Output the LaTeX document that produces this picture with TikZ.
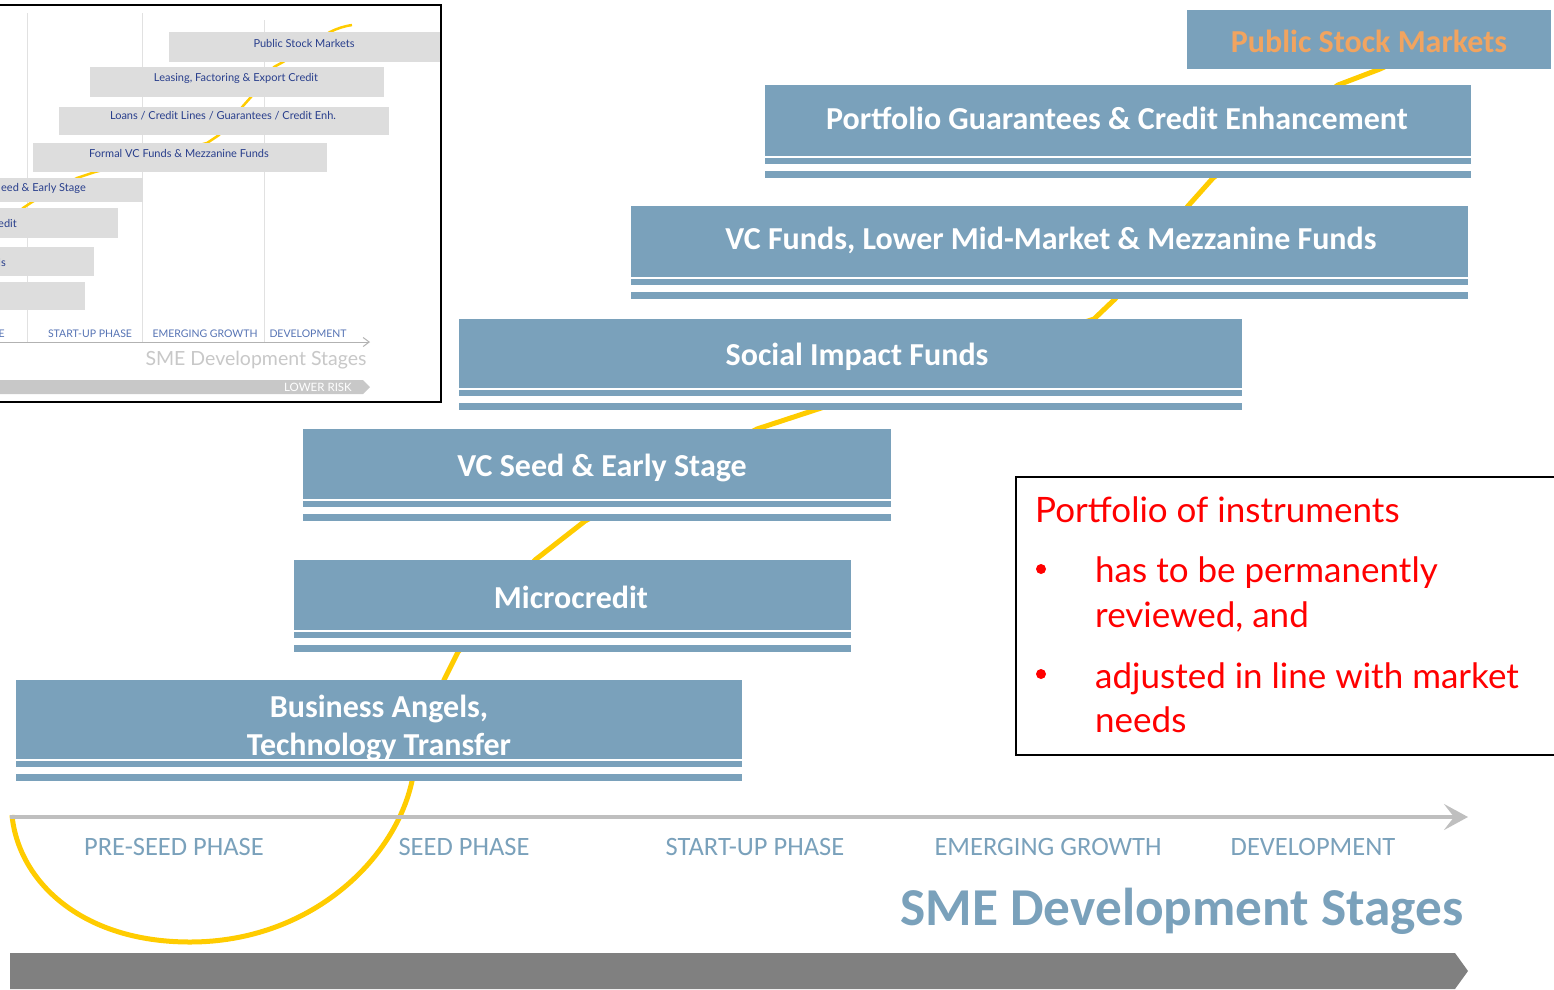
\documentclass[tikz,border=0pt]{standalone}
\usepackage{fontspec}
\setmainfont{Carlito}
\newfontfamily\geofont{Lato}
\usetikzlibrary{arrows.meta}
\definecolor{barblue}{RGB}{122,161,187}
\definecolor{curveyel}{RGB}{255,204,0}
\definecolor{axisgray}{RGB}{191,191,191}
\definecolor{darkbar}{RGB}{128,128,128}
\definecolor{pubtext}{RGB}{241,164,96}
\definecolor{insetgray}{RGB}{221,221,221}
\definecolor{insetblue}{RGB}{40,62,140}
\definecolor{insetaxis}{RGB}{85,115,180}
\definecolor{insetline}{RGB}{225,225,225}
\definecolor{insetlight}{RGB}{200,200,200}
\newcommand\barstripes[1]{%
  \fill[white] (#1.south west) rectangle ([yshift=-22pt]#1.south east);
  \fill[barblue] ([yshift=-2pt]#1.south west) rectangle ([yshift=-8pt]#1.south east);
  \fill[barblue] ([yshift=-15pt]#1.south west) rectangle ([yshift=-22pt]#1.south east);
}
\begin{document}
\begin{tikzpicture}[x=1pt,y=-1pt,
  stagebar/.style={fill=barblue, inner sep=0pt, anchor=north west},
  bartext/.style={text=white, inner sep=0pt, font=\bfseries\fontsize{32}{38}\selectfont, align=center},
  curve/.style={curveyel, line width=5pt, line join=round},
  phase/.style={text=barblue, font=\fontsize{26.5}{30}\selectfont, inner sep=0pt},
  redtext/.style={text=red, font=\geofont\fontsize{35}{40}\selectfont, anchor=base west, inner sep=0pt},
  redbullet/.style={circle, fill=red, minimum size=10pt, inner sep=0pt},
  insetbar/.style={fill=insetgray},
  insettext/.style={text=insetblue, font=\geofont\fontsize{11}{13}\selectfont, inner sep=0pt},
  insetphase/.style={text=insetaxis, font=\geofont\fontsize{10.5}{12}\selectfont, inner sep=0pt}]
\useasboundingbox (0,0) rectangle (1554,989);
\clip (0,0) rectangle (1554,989);

% ---------------- inset (picture of earlier slide) ----------------
\fill[white] (-10,5) rectangle (441,402);
\draw[insetline, line width=1pt] (27,13) -- (27,342);
\draw[insetline, line width=1pt] (142,13) -- (142,342);
\draw[insetline, line width=1pt] (264,20) -- (264,342);
\draw[curveyel, line width=2.5pt, line join=round] (0,232) -- (23,208) -- (32,202) -- (77,178) -- (95,172) -- (207,143) -- (219,135) -- (243,106) -- (251,97) -- (274,67) -- (283,62) -- (330,32) to[bend left=8] (352,25);
\fill[insetbar] (169,32) rectangle (441,62);
\fill[insetbar] (90,67) rectangle (384,97);
\fill[insetbar] (59,107) rectangle (389,135);
\fill[insetbar] (33,143) rectangle (327,172);
\fill[insetbar] (-5,178) rectangle (143,202);
\fill[insetbar] (-5,208) rectangle (118,238);
\fill[insetbar] (-5,247) rectangle (94,276);
\fill[insetbar] (-5,282) rectangle (85,310);
\node[insettext] (i1) at (304,43) {Public Stock Markets};
\node[insettext] (i2) at (236,78) {Leasing, Factoring \& Export Credit};
\node[insettext] (i3) at (223,116) {Loans / Credit Lines / Guarantees / Credit Enh.};
\node[insettext] (i4) at (179,153) {Formal VC Funds \& Mezzanine Funds};
\node[insettext, anchor=east] (i5) at (86,188) {eed \& Early Stage};
\node[insettext, anchor=east] (i6) at (17,223) {edit};
\node[insettext, anchor=east] (i7) at (6,262) {ls};
\node[insetphase, anchor=east] (ip0) at (5,334) {E};
\node[insetphase] (ip1) at (90,334) {START-UP PHASE};
\node[insetphase] (ip2) at (205,334) {EMERGING GROWTH};
\node[insetphase] (ip3) at (308,334) {DEVELOPMENT};
\coordinate (iaL) at (-5,342);
\coordinate (iaR) at (370,342);
\draw[gray!60, line width=1pt, -{Straight Barb[length=6pt,width=9pt]}] (iaL) -- (iaR);
\node[text=insetlight, font=\geofont\fontsize{19.5}{22}\selectfont, inner sep=0pt] (ititle) at (256,360) {SME Development Stages};
\fill[insetlight] (-5,380) -- (363,380) -- (370,387) -- (363,394) -- (-5,394) -- cycle;
\node[text=white, font=\geofont\fontsize{11.5}{13}\selectfont, inner sep=0pt] (irisk) at (318,387) {LOWER RISK};
\draw[black, line width=2pt] (-10,5) rectangle (441,402);

% ---------------- yellow curve (behind the bars) ----------------
\draw[curve] (1420,50) -- (1380,69) -- (1338,85) -- (1213,178) -- (1188,206) -- (1115,299) -- (1094,319) -- (815,410) -- (757,429) -- (585,521) -- (535,560) -- (458,652) -- (444,680) -- (412,781)
  .. controls (395,860) and (310,942) .. (190,942)
  .. controls (80,942) and (18,880) .. (12,815);

% ---------------- bars ----------------
\node[stagebar, minimum width=364pt, minimum height=59pt] (psm) at (1187,10) {};
\node[bartext, text=pubtext] (psm-t) at (1369,41) {Public Stock Markets};
\node[stagebar, minimum width=706pt, minimum height=71pt] (pgce) at (765,85) {};
\barstripes{pgce}
\node[bartext] (pgce-t) at (1117,118) {Portfolio Guarantees \& Credit Enhancement};
\node[stagebar, minimum width=837pt, minimum height=71pt] (vcf) at (631,206) {};
\barstripes{vcf}
\node[bartext] (vcf-t) at (1051,240) {VC Funds, Lower Mid-Market \& Mezzanine Funds};
\node[stagebar, minimum width=783pt, minimum height=69pt] (sif) at (459,319) {};
\barstripes{sif}
\node[bartext] (sif-t) at (857,357) {Social Impact Funds};
\node[stagebar, minimum width=588pt, minimum height=70pt] (vcs) at (303,429) {};
\barstripes{vcs}
\node[bartext] (vcs-t) at (602,468) {VC Seed \& Early Stage};
\node[stagebar, minimum width=557pt, minimum height=70pt] (mc) at (294,560) {};
\barstripes{mc}
\node[bartext] (mc-t) at (571,597) {Microcredit};
\node[stagebar, minimum width=726pt, minimum height=79pt] (ba) at (16,680) {};
\barstripes{ba}
\node[bartext] (ba-t) at (379,728) {Business Angels,\\Technology Transfer};

% ---------------- axis ----------------
\coordinate (axL) at (10,817);
\coordinate (axR) at (1468,817);
\draw[axisgray, line width=4pt, -{Stealth[length=24pt,width=26pt,inset=10pt]}] (axL) -- (axR);
\node[phase] (ph1) at (174,847) {PRE-SEED PHASE};
\node[phase] (ph2) at (464,847) {SEED PHASE};
\node[phase] (ph3) at (755,847) {START-UP PHASE};
\node[phase] (ph4) at (1048,847) {EMERGING GROWTH};
\node[phase] (ph5) at (1313,847) {DEVELOPMENT};
\node[text=barblue, font=\bfseries\fontsize{53.3}{60}\selectfont, anchor=base, inner sep=0pt] (title) at (1182,925) {SME Development Stages};
\fill[darkbar] (10,953) -- (1455,953) -- (1468,971) -- (1455,989) -- (10,989) -- cycle;

% ---------------- red note ----------------
\node[draw=black, line width=1.5pt, anchor=north west, minimum width=560pt, minimum height=278pt, inner sep=0pt] (note) at (1015,476) {};
\node[redtext] (n0) at (1035,522) {Portfolio of instruments};
\node[redbullet] (bul1) at (1041,569) {};
\node[redtext] (n1) at (1095,582) {has to be permanently};
\node[redtext] (n2) at (1095,627) {reviewed, and};
\node[redbullet] (bul2) at (1041,674) {};
\node[redtext] (n3) at (1095,688) {adjusted in line with market};
\node[redtext] (n4) at (1095,732) {needs};
\end{tikzpicture}
\end{document}
